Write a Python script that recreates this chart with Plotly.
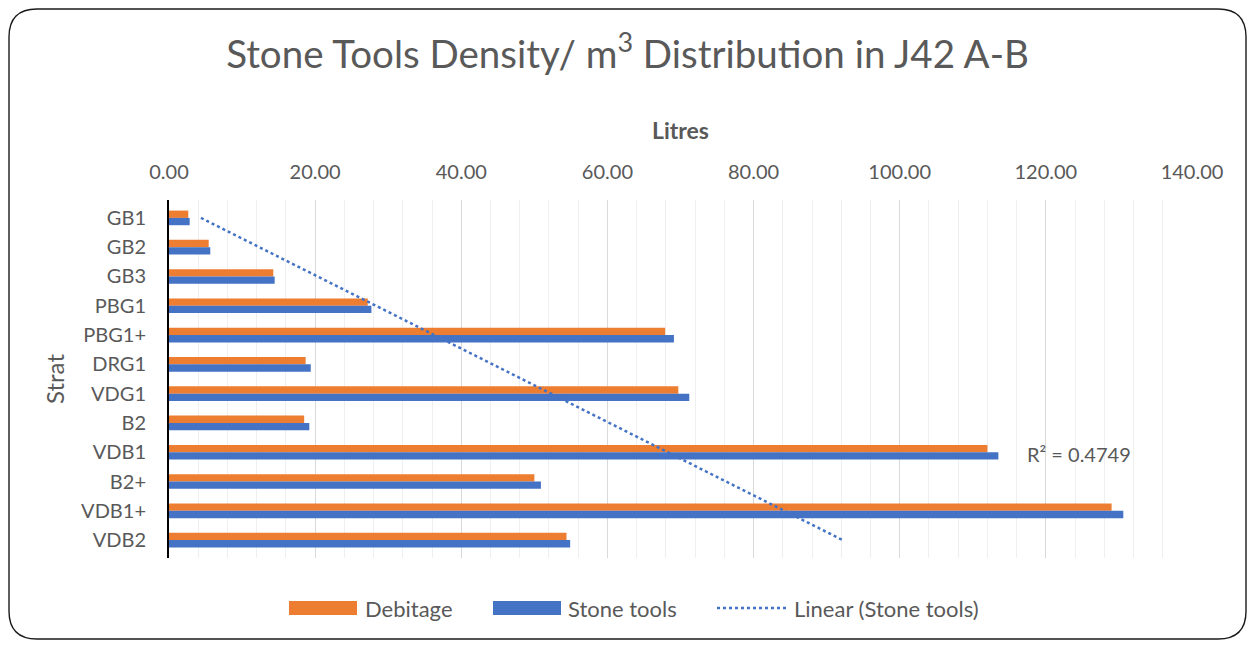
import numpy as np
import plotly.graph_objects as go

categories = ["GB1", "GB2", "GB3", "PBG1", "PBG1+", "DRG1", "VDG1", "B2", "VDB1", "B2+", "VDB1+", "VDB2"]
debitage = [2.64, 5.43, 14.27, 27.2, 67.9, 18.7, 69.7, 18.5, 112.0, 50.0, 129.0, 54.4]
stone_tools = [2.83, 5.65, 14.46, 27.7, 69.1, 19.4, 71.2, 19.2, 113.5, 50.9, 130.6, 54.9]
x_ticks = [0, 20, 40, 60, 80, 100, 120, 140]
series_names = ["Debitage", "Stone tools", "Linear (Stone tools)"]
r2_text = "R² = 0.4749"

ORANGE = "#ED7D31"
BLUE = "#4472C4"
GREY = "#595959"
FONT = "Lato"

# Linear trendline (Excel style: x = category index 1..n)
idx = np.arange(1, len(stone_tools) + 1)
slope, intercept = np.polyfit(idx, stone_tools, 1)
trend = intercept + slope * idx

W, H = 1239, 632
L, R, T, B = 161, 55, 192, 82
pw = W - L - R
ph = H - T - B


def P(fx, fy):
    """figure pixel -> paper coords"""
    return (fx - L) / pw, (H - B - fy) / ph


fig = go.Figure()
fig.add_trace(go.Bar(y=categories, x=debitage, orientation="h", name=series_names[0],
                     marker=dict(color=ORANGE, line=dict(width=0)), showlegend=False))
fig.add_trace(go.Bar(y=categories, x=stone_tools, orientation="h", name=series_names[1],
                     marker=dict(color=BLUE, line=dict(width=0)), showlegend=False))
fig.add_trace(go.Scatter(y=categories, x=trend, mode="lines", name=series_names[2],
                         line=dict(color=BLUE, width=2.5, dash="dot"), showlegend=False))

fig.add_annotation(x=124.5, y="VDB1", xref="x", yref="y", text=r2_text, showarrow=False,
                   font=dict(family=FONT, size=20, color=GREY), yshift=-2)

# ---- custom legend (Excel-like wide swatches) ----
leg_y = 600  # figure px, row center
LEG_FS = 22
ax0, ay0 = P(281, leg_y - 7)
ax1, ay1 = P(349, leg_y + 7)
fig.add_shape(type="rect", xref="paper", yref="paper", x0=ax0, x1=ax1, y0=ay1, y1=ay0,
              fillcolor=ORANGE, line=dict(width=0))
tx, ty = P(355, leg_y)
fig.add_annotation(xref="paper", yref="paper", x=tx, y=ty, xanchor="left", yanchor="middle",
                   text=series_names[0], showarrow=False, font=dict(family=FONT, size=LEG_FS, color=GREY))
bx0, by0 = P(485, leg_y - 7)
bx1, by1 = P(553, leg_y + 7)
fig.add_shape(type="rect", xref="paper", yref="paper", x0=bx0, x1=bx1, y0=by1, y1=by0,
              fillcolor=BLUE, line=dict(width=0))
tx, ty = P(558, leg_y)
fig.add_annotation(xref="paper", yref="paper", x=tx, y=ty, xanchor="left", yanchor="middle",
                   text=series_names[1], showarrow=False, font=dict(family=FONT, size=LEG_FS, color=GREY))
lx0, ly = P(709, leg_y)
lx1, _ = P(780, leg_y)
fig.add_shape(type="line", xref="paper", yref="paper", x0=lx0, x1=lx1, y0=ly, y1=ly,
              line=dict(color=BLUE, width=2.5, dash="dot"))
tx, ty = P(784, leg_y)
fig.add_annotation(xref="paper", yref="paper", x=tx, y=ty, xanchor="left", yanchor="middle",
                   text=series_names[2], showarrow=False, font=dict(family=FONT, size=LEG_FS, color=GREY))

# ---- rounded border around chart ----
x0, y0, x1, y1, rr = 1, 1, W - 1, H - 1, 28


def fmt(p):
    return f"{p[0]:.5f},{p[1]:.5f}"


path = (
    "M " + fmt(P(x0 + rr, y0)) +
    " L " + fmt(P(x1 - rr, y0)) +
    " Q " + fmt(P(x1, y0)) + " " + fmt(P(x1, y0 + rr)) +
    " L " + fmt(P(x1, y1 - rr)) +
    " Q " + fmt(P(x1, y1)) + " " + fmt(P(x1 - rr, y1)) +
    " L " + fmt(P(x0 + rr, y1)) +
    " Q " + fmt(P(x0, y1)) + " " + fmt(P(x0, y1 - rr)) +
    " L " + fmt(P(x0, y0 + rr)) +
    " Q " + fmt(P(x0, y0)) + " " + fmt(P(x0 + rr, y0)) + " Z"
)
fig.add_shape(type="path", path=path, xref="paper", yref="paper",
              line=dict(color="#1a1a1a", width=1.4), layer="above")

fig.update_layout(
    width=W, height=H,
    margin=dict(l=L, r=R, t=T, b=B),
    paper_bgcolor="white", plot_bgcolor="white",
    barmode="group", bargap=0.5, bargroupgap=0,
    showlegend=False,
    title=dict(text="Stone Tools Density/ m<sup>3</sup> Distribution in J42 A-B",
               x=0.5, xanchor="center", y=1 - 47 / H, yanchor="middle", yref="container",
               font=dict(family=FONT, size=38.5, color=GREY)),
    font=dict(family=FONT, color=GREY),
    xaxis=dict(side="top", range=[0, 140], tickvals=x_ticks, tickformat=".2f",
               showgrid=True, gridcolor="#D9D9D9", gridwidth=1.3, zeroline=False,
               ticks="", ticklabelstandoff=16,
               tickfont=dict(family=FONT, size=20, color=GREY),
               minor=dict(dtick=4, showgrid=True, gridcolor="#EFEFEF", gridwidth=1),
               title=dict(text="<b>Litres</b>", font=dict(family=FONT, size=23, color=GREY),
                          standoff=12),
               fixedrange=True),
    yaxis=dict(autorange="reversed", showline=True, linecolor="black", linewidth=2,
               ticks="", ticklabelstandoff=17,
               tickfont=dict(family=FONT, size=20, color=GREY),
               title=dict(text="Strat", font=dict(family=FONT, size=24, color=GREY), standoff=10),
               showgrid=False, fixedrange=True),
)

fig.write_html("out.html")
